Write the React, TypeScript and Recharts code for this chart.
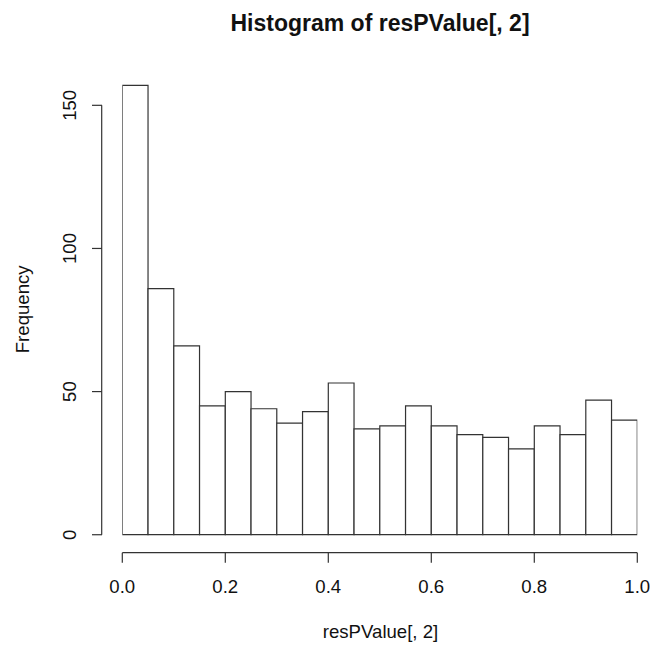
import React from 'react';
import { BarChart, Bar, XAxis, YAxis, ReferenceLine } from 'recharts';

// Histogram bins (width 0.05) of resPValue[, 2]
const binStarts = [
  0.0, 0.05, 0.1, 0.15, 0.2, 0.25, 0.3, 0.35, 0.4, 0.45,
  0.5, 0.55, 0.6, 0.65, 0.7, 0.75, 0.8, 0.85, 0.9, 0.95,
];
const binWidth = 0.05;
const counts = [157, 86, 66, 45, 50, 44, 39, 43, 53, 37, 38, 45, 38, 35, 34, 30, 38, 35, 47, 40];
const xTicks = [0, 0.2, 0.4, 0.6, 0.8, 1.0];
const yTicks = [0, 50, 100, 150];
const xRange = [0, 1];

const title = 'Histogram of resPValue[, 2]';
const xLabel = 'resPValue[, 2]';
const yLabel = 'Frequency';

const data = binStarts.map((s, i) => ({ mid: s + binWidth / 2, count: counts[i] }));

// R extends axis ranges by 4%
const maxCount = Math.max(...counts);
const yMin = -0.04 * maxCount;
const yMax = maxCount * 1.04;
const xMin = xRange[0] - 0.04 * (xRange[1] - xRange[0]);

const FONT = '"Liberation Sans", Arial, sans-serif';
const INK = '#333';

const CHART_W = 652;
const CHART_H = 647;
const Y_AXIS_W = 102;
const PAD_L = 20.3;
const PAD_R = 14.7;
const X_AXIS_H = 94.3;
const plotRangePx = CHART_W - Y_AXIS_W - PAD_L - PAD_R;
// slightly under the band so recharts does not shrink bars to 90%
const barPx = (plotRangePx * binWidth) / (xRange[1] - xRange[0]) - 0.02;

const YTick = (props: any) => {
  const { x, y, payload } = props;
  return (
    <text
      x={x}
      y={y}
      transform={`rotate(-90, ${x}, ${y})`}
      textAnchor="middle"
      fontSize={18.6}
      fontFamily={FONT}
      fill="#111"
    >
      {payload.value}
    </text>
  );
};

export default function App() {
  return (
    <div style={{ position: 'absolute', left: 0, top: 0, width: CHART_W, height: CHART_H, background: '#fff' }}>
      <BarChart
        width={CHART_W}
        height={CHART_H}
        data={data}
        margin={{ top: 67.3, right: 0, bottom: 0, left: 0 }}
        barCategoryGap="0%"
        barGap={0}
      >
        <XAxis
          type="number"
          dataKey="mid"
          domain={xRange}
          ticks={xTicks}
          allowDataOverflow
          interval={0}
          padding={{ left: PAD_L, right: PAD_R }}
          height={X_AXIS_H}
          axisLine={false}
          tickLine={{ stroke: INK, strokeWidth: 1.2 }}
          tickSize={10}
          tickMargin={17}
          tick={{ fontSize: 18.6, fontFamily: FONT, fill: '#111' }}
          tickFormatter={(v: number) => v.toFixed(1)}
        />
        <YAxis
          domain={[yMin, yMax]}
          ticks={yTicks}
          allowDataOverflow
          width={Y_AXIS_W}
          axisLine={false}
          tickLine={{ stroke: INK, strokeWidth: 1.2 }}
          tickSize={10}
          tickMargin={16}
          tick={<YTick />}
        />
        <Bar
          dataKey="count"
          barSize={barPx}
          fill="#fff"
          stroke={INK}
          strokeWidth={1.2}
          isAnimationActive={false}
        />
        <ReferenceLine
          segment={[{ x: xRange[0], y: yMin }, { x: xRange[1], y: yMin }]}
          stroke={INK}
          strokeWidth={1.2}
          ifOverflow="visible"
        />
        <ReferenceLine
          segment={[{ x: xMin, y: yTicks[0] }, { x: xMin, y: yTicks[yTicks.length - 1] }]}
          stroke={INK}
          strokeWidth={1.2}
          ifOverflow="visible"
        />
      </BarChart>
      <div
        style={{
          position: 'absolute', left: 0, top: 11.5, width: 760, textAlign: 'center',
          fontFamily: FONT, fontWeight: 'bold', fontSize: 23, lineHeight: '23px', color: '#111',
          whiteSpace: 'nowrap',
        }}
      >
        {title}
      </div>
      <div
        style={{
          position: 'absolute', left: 280.5, top: 623.3, width: 200, textAlign: 'center',
          fontFamily: FONT, fontSize: 18.6, lineHeight: '18.6px', color: '#111', whiteSpace: 'nowrap',
        }}
      >
        {xLabel}
      </div>
      <div
        style={{
          position: 'absolute', left: 23.1 - 100, top: 309 - 9.3, width: 200, height: 18.6, textAlign: 'center',
          fontFamily: FONT, fontSize: 18.6, lineHeight: '18.6px', color: '#111', whiteSpace: 'nowrap',
          transform: 'rotate(-90deg)', transformOrigin: 'center center',
        }}
      >
        {yLabel}
      </div>
    </div>
  );
}
